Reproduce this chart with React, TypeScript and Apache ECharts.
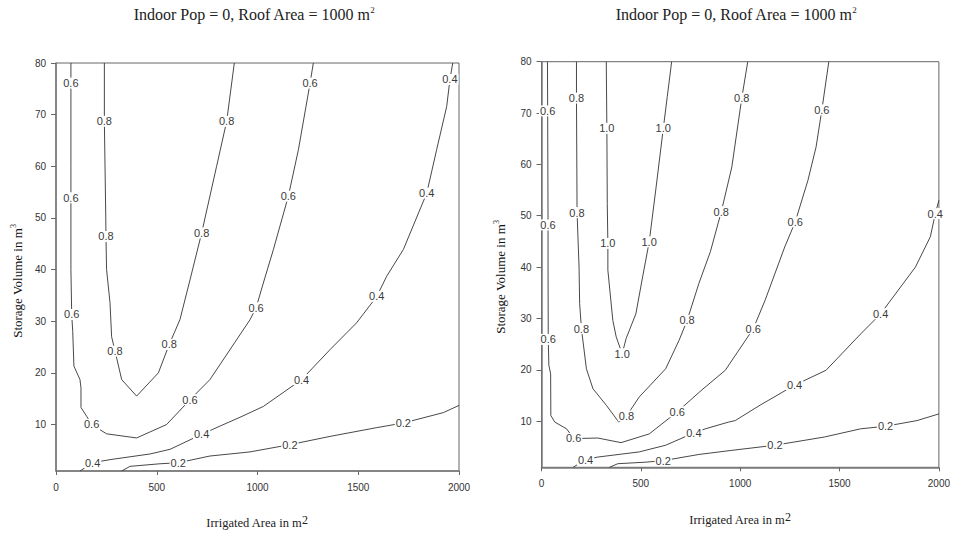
import React, { useEffect, useRef } from "react";
import * as echarts from "echarts";

type Pt = [number, number];

// Axis settings shared by both panels
const xTicks = [0, 500, 1000, 1500, 2000];
const yTicks = [10, 20, 30, 40, 50, 60, 70, 80];
const xMin = 0;
const xMax = 2000;
const yMin = 1;
const yMax = 80;

const titleText = "Indoor Pop = 0, Roof Area = 1000 m";
const xName = "Irrigated Area in m";
const yName = "Storage Volume in m";

// ---- Left panel: contour traces (irrigated area, storage volume) ----
const left02Path: Pt[] = [[326, 1], [367, 1.9], [516, 2.4], [764, 3.9], [864, 4.3], [963, 4.7], [1360, 7.7], [1592, 9.4], [1922, 12.3], [2000, 13.7]];
const left02Labels: Pt[] = [[607, 2.6], [1161, 6.1], [1724, 10.3]];

const left04Path: Pt[] = [[119, 1], [268, 3.2], [467, 4.3], [566, 5.2], [814, 9.7], [913, 11.4], [1029, 13.5], [1360, 24.5], [1492, 29.7], [1641, 38.7], [1724, 43.9], [1889, 63.2], [1939, 71.6], [1969, 80]];
const left04Labels: Pt[] = [[182, 2.6], [723, 8.1], [1219, 18.7], [1592, 34.8], [1840, 54.8], [1955, 76.8]];

const left06Path: Pt[] = [[74, 80], [74, 60], [74, 40], [83, 28], [89, 21.3], [119, 18.7], [124, 17.1], [124, 13.3], [152, 11.6], [251, 8.2], [400, 7.4], [549, 10], [764, 18.7], [963, 30.3], [1029, 37.4], [1079, 43.9], [1203, 63.2], [1277, 80]];
const left06Labels: Pt[] = [[74, 76.1], [74, 53.9], [78, 31.3], [177, 10], [665, 14.8], [993, 32.6], [1153, 54.2], [1261, 76.1]];

const left08Path: Pt[] = [[240, 80], [247, 50], [251, 40], [268, 33.6], [276, 27], [326, 18.7], [400, 15.5], [508, 20], [615, 30.3], [665, 38], [797, 60], [885, 80]];
const left08Labels: Pt[] = [[240, 68.7], [248, 46.4], [293, 24.2], [562, 25.5], [723, 47.1], [847, 68.7]];

// ---- Right panel: contour traces ----
const right02Path: Pt[] = [[342, 1], [384, 1.7], [525, 2], [792, 3.5], [958, 4.3], [1424, 6.9], [1607, 8.5], [1890, 10.1], [2000, 11.4]];
const right02Labels: Pt[] = [[613, 2.3], [1175, 5.3], [1732, 9]];

const right04Path: Pt[] = [[159, 1], [284, 3], [492, 4], [625, 5.3], [825, 8.5], [941, 9.8], [975, 10.1], [1100, 13.1], [1432, 19.9], [1607, 27], [1882, 40], [1957, 45.9], [2000, 53]];
const right04Labels: Pt[] = [[222, 2.5], [767, 7.7], [1274, 17], [1707, 30.9], [1982, 50.4]];

const right06Path: Pt[] = [[30, 80], [33, 39.4], [37, 20.9], [46, 19.2], [47, 11.1], [67, 9.8], [126, 8.5], [284, 6.7], [400, 5.8], [542, 7.5], [808, 16.1], [925, 19.9], [1125, 33.5], [1224, 43.9], [1341, 56.9], [1382, 63.4], [1446, 80]];
const right06Labels: Pt[] = [[31, 70.4], [33, 48.2], [34, 25.9], [162, 6.6], [683, 11.8], [1066, 28], [1277, 48.8], [1411, 70.6]];

const right08Path: Pt[] = [[176, 80], [179, 50.6], [189, 40], [192, 32.9], [226, 20.2], [259, 16.3], [326, 13.1], [389, 9.8], [492, 14.7], [625, 20.2], [692, 25.7], [792, 36.8], [850, 43], [958, 59.5], [1038, 80]];
const right08Labels: Pt[] = [[176, 72.9], [179, 50.6], [201, 28], [428, 11], [733, 29.6], [905, 50.8], [1008, 72.9]];

const right10Path: Pt[] = [[326, 80], [331, 52.4], [334, 39.4], [359, 29.6], [376, 26.4], [406, 23.1], [426, 26.1], [475, 30.9], [509, 38.1], [575, 55], [633, 73.2], [655, 80]];
const right10Labels: Pt[] = [[329, 67], [334, 44.6], [406, 23.1], [542, 44.9], [613, 67]];

interface Contour {
  level: string;
  path: Pt[];
  labels: Pt[];
}

const leftContours: Contour[] = [
  { level: "0.2", path: left02Path, labels: left02Labels },
  { level: "0.4", path: left04Path, labels: left04Labels },
  { level: "0.6", path: left06Path, labels: left06Labels },
  { level: "0.8", path: left08Path, labels: left08Labels },
];

const rightContours: Contour[] = [
  { level: "0.2", path: right02Path, labels: right02Labels },
  { level: "0.4", path: right04Path, labels: right04Labels },
  { level: "0.6", path: right06Path, labels: right06Labels },
  { level: "0.8", path: right08Path, labels: right08Labels },
  { level: "1.0", path: right10Path, labels: right10Labels },
];

// Put each label anchor into the trace on its nearest segment so the line runs through it
function withLabelPoints(path: Pt[], labels: Pt[]): Pt[] {
  const out = path.slice();
  const nx = (v: number) => v / (xMax - xMin);
  const ny = (v: number) => v / (yMax - yMin);
  for (const p of labels) {
    if (out.some((q) => q[0] === p[0] && q[1] === p[1])) continue;
    let best = 0;
    let bestD = Infinity;
    for (let i = 0; i < out.length - 1; i++) {
      const ax = nx(out[i][0]), ay = ny(out[i][1]);
      const bx = nx(out[i + 1][0]), by = ny(out[i + 1][1]);
      const px = nx(p[0]), py = ny(p[1]);
      const dx = bx - ax, dy = by - ay;
      const len2 = dx * dx + dy * dy || 1e-12;
      let t = ((px - ax) * dx + (py - ay) * dy) / len2;
      t = Math.max(0, Math.min(1, t));
      const cx = ax + t * dx, cy = ay + t * dy;
      const d = (px - cx) ** 2 + (py - cy) ** 2;
      if (d < bestD) {
        bestD = d;
        best = i;
      }
    }
    out.splice(best + 1, 0, p);
  }
  return out;
}

const SANS = "'Liberation Sans', Arial, Helvetica, sans-serif";
const SERIF = "'Liberation Serif', 'Times New Roman', serif";

function panelSeries(contours: Contour[], idx: number): any[] {
  const lines = contours.map((c) => ({
    type: "line",
    name: `c${idx}-${c.level}`,
    xAxisIndex: idx,
    yAxisIndex: idx,
    data: withLabelPoints(c.path, c.labels),
    showSymbol: false,
    symbol: "none",
    smooth: false,
    silent: true,
    lineStyle: { color: "#333", width: 0.9 },
    z: 2,
  }));
  const labelData: any[] = [];
  contours.forEach((c) => {
    c.labels.forEach((p) => labelData.push({ value: p, name: c.level }));
  });
  const labels = {
    type: "scatter",
    xAxisIndex: idx,
    yAxisIndex: idx,
    data: labelData,
    symbol: "circle",
    symbolSize: 0.1,
    silent: true,
    itemStyle: { color: "#333", opacity: 1 },
    label: {
      show: true,
      position: [0, 0],
      align: "center",
      verticalAlign: "middle",
      formatter: "{b}",
      fontFamily: SANS,
      fontSize: 11,
      color: "#3a3a3a",
      textBorderWidth: 0,
      backgroundColor: "#fff",
      padding: [0, 1],
    },
    z: 5,
  };
  return [...lines, labels];
}

function xAxisFor(idx: number) {
  return {
    type: "value",
    gridIndex: idx,
    min: xMin,
    max: xMax,
    interval: 500,
    splitLine: { show: false },
    axisLine: { show: true, onZero: false, lineStyle: { color: "#777", width: 1.5 } },
    axisTick: { show: true, length: 4, lineStyle: { color: "#666" } },
    axisLabel: {
      margin: 11,
      fontFamily: SANS,
      fontSize: 10,
      color: "#333",
      customValues: xTicks,
      formatter: (v: number) => String(v),
    },
  };
}

function yAxisFor(idx: number) {
  return {
    type: "value",
    gridIndex: idx,
    min: yMin,
    max: yMax,
    splitLine: { show: false },
    axisLine: { show: true, onZero: false, lineStyle: { color: "#777", width: 1.5 } },
    axisTick: { show: true, length: 5, lineStyle: { color: "#666" }, customValues: yTicks },
    axisLabel: {
      margin: 10,
      fontFamily: SANS,
      fontSize: 10,
      color: "#333",
      customValues: yTicks,
      formatter: (v: number) => String(v),
    },
  };
}

function titleGraphic(cx: number, cy: number) {
  return {
    type: "text",
    x: cx,
    y: cy,
    silent: true,
    style: {
      text: `{a|${titleText}}{s|2}`,
      align: "center",
      verticalAlign: "middle",
      rich: {
        a: { fontFamily: SERIF, fontSize: 16, fill: "#222", lineHeight: 18 },
        s: { fontFamily: SERIF, fontSize: 9, fill: "#222", lineHeight: 10, verticalAlign: "top" },
      },
    },
  };
}

function xNameGraphic(cx: number, cy: number) {
  return {
    type: "text",
    x: cx,
    y: cy,
    silent: true,
    style: {
      text: `{a|${xName}}{s|2}`,
      align: "center",
      verticalAlign: "middle",
      rich: {
        a: { fontFamily: SERIF, fontSize: 12.5, fill: "#222", lineHeight: 18 },
        s: { fontFamily: SERIF, fontSize: 12, fill: "#222", lineHeight: 12, verticalAlign: "top" },
      },
    },
  };
}

function yNameGraphic(cx: number, cy: number) {
  return {
    type: "text",
    x: cx,
    y: cy,
    rotation: Math.PI / 2,
    silent: true,
    style: {
      text: `{a|${yName}}{s|3}`,
      align: "center",
      verticalAlign: "middle",
      rich: {
        a: { fontFamily: SERIF, fontSize: 13, fill: "#111", lineHeight: 16 },
        s: { fontFamily: SERIF, fontSize: 8, fill: "#111", lineHeight: 9, verticalAlign: "top" },
      },
    },
  };
}

export default function App() {
  const ref = useRef<HTMLDivElement>(null);

  useEffect(() => {
    if (!ref.current) return;
    const chart = echarts.init(ref.current, undefined, { renderer: "svg" });
    chart.setOption({
      animation: false,
      backgroundColor: "#fff",
      grid: [
        { left: 56, top: 63, width: 403, height: 408, show: true, borderColor: "#666", borderWidth: 1 },
        { left: 541.5, top: 61.7, width: 400.5, height: 405.6, show: true, borderColor: "#666", borderWidth: 1 },
      ],
      xAxis: [xAxisFor(0), xAxisFor(1)],
      yAxis: [yAxisFor(0), yAxisFor(1)],
      series: [...panelSeries(leftContours, 0), ...panelSeries(rightContours, 1)],
      graphic: [
        titleGraphic(254, 14),
        titleGraphic(736, 14),
        xNameGraphic(257, 523),
        xNameGraphic(740, 520),
        yNameGraphic(17.5, 281),
        yNameGraphic(500, 277),
      ],
    });
    return () => chart.dispose();
  }, []);

  return (
    <div
      ref={ref}
      style={{ position: "fixed", left: 0, top: 0, width: 953, height: 533, background: "#fff" }}
    />
  );
}
